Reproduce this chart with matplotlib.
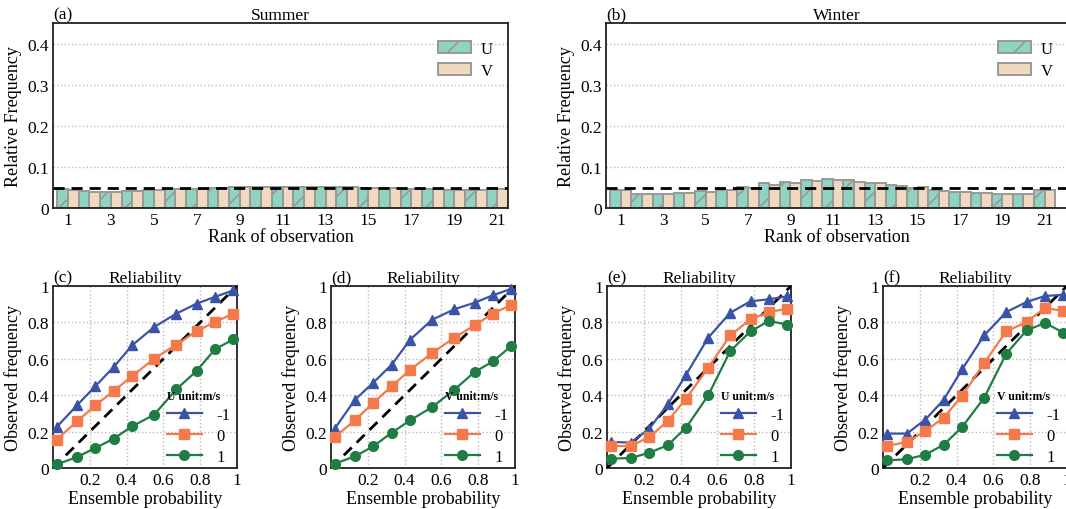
import numpy as np
import matplotlib
matplotlib.use('Agg')
import matplotlib.pyplot as plt
from matplotlib.patches import Patch

plt.rcParams['font.family'] = ['Liberation Serif', 'DejaVu Serif']
plt.rcParams['hatch.color'] = '#999999'
plt.rcParams['hatch.linewidth'] = 1.2

# rank histogram data (ranks 1..21)
ranks = np.arange(1, 22)
summer_u = [0.047, 0.041, 0.040, 0.042, 0.044, 0.046, 0.047, 0.048, 0.050, 0.051, 0.052,
            0.052, 0.052, 0.051, 0.049, 0.048, 0.047, 0.046, 0.045, 0.045, 0.048]
summer_v = [0.045, 0.040, 0.040, 0.042, 0.044, 0.046, 0.047, 0.048, 0.050, 0.051, 0.051,
            0.052, 0.051, 0.050, 0.049, 0.048, 0.047, 0.046, 0.045, 0.045, 0.047]
winter_u = [0.045, 0.035, 0.035, 0.037, 0.041, 0.045, 0.051, 0.061, 0.063, 0.067, 0.070,
            0.067, 0.060, 0.055, 0.048, 0.043, 0.039, 0.037, 0.033, 0.034, 0.044]
winter_v = [0.043, 0.034, 0.034, 0.037, 0.040, 0.044, 0.049, 0.057, 0.062, 0.065, 0.068,
            0.063, 0.060, 0.053, 0.050, 0.042, 0.040, 0.037, 0.035, 0.033, 0.044]

# reliability diagrams: x = ensemble probability, thresholds -1, 0, 1
prob = [0.02, 0.13, 0.23, 0.33, 0.43, 0.55, 0.67, 0.78, 0.88, 0.98]
rel_c = {'-1': [0.225, 0.344, 0.449, 0.555, 0.674, 0.775, 0.848, 0.903, 0.940, 0.976],
         '0': [0.156, 0.256, 0.344, 0.423, 0.505, 0.601, 0.678, 0.751, 0.802, 0.848],
         '1': [0.020, 0.060, 0.110, 0.161, 0.229, 0.293, 0.432, 0.533, 0.652, 0.707]}
rel_d = {'-1': [0.216, 0.375, 0.469, 0.568, 0.705, 0.815, 0.872, 0.908, 0.949, 0.985],
         '0': [0.170, 0.262, 0.359, 0.449, 0.540, 0.632, 0.716, 0.784, 0.848, 0.897],
         '1': [0.024, 0.064, 0.119, 0.194, 0.262, 0.335, 0.430, 0.527, 0.586, 0.670]}
rel_e = {'-1': [0.143, 0.140, 0.216, 0.350, 0.513, 0.716, 0.853, 0.916, 0.927, 0.943],
         '0': [0.121, 0.121, 0.170, 0.258, 0.381, 0.551, 0.729, 0.817, 0.857, 0.875],
         '1': [0.051, 0.055, 0.084, 0.125, 0.222, 0.399, 0.643, 0.751, 0.808, 0.788]}
rel_f = {'-1': [0.189, 0.189, 0.266, 0.375, 0.542, 0.729, 0.857, 0.912, 0.945, 0.952],
         '0': [0.121, 0.143, 0.203, 0.277, 0.396, 0.577, 0.751, 0.802, 0.879, 0.863],
         '1': [0.042, 0.048, 0.073, 0.128, 0.225, 0.386, 0.628, 0.756, 0.797, 0.744]}

u_color = '#8ed4c0'
v_color = '#f0d9bf'
edge = '#999999'
line_styles = {'-1': ('#3b53a6', '^'), '0': ('#f57a4b', 's'), '1': ('#1f7d43', 'o')}

W, H = 1066, 510
fig = plt.figure(figsize=(W / 100, H / 100), dpi=100)


def box(x0, x1, y0, y1):
    # pixel box -> figure fraction
    return [x0 / W, (H - y1) / H, (x1 - x0) / W, (y1 - y0) / H]


def style_axes(ax):
    for s in ax.spines.values():
        s.set_color('#222222')
        s.set_linewidth(1.3)
    ax.tick_params(length=0, labelsize=12.5, pad=3)


def rank_panel(pos, u, v, tag, title, xmax):
    ax = fig.add_axes(pos)
    ax.bar(ranks - 0.25, u, width=0.5, color=u_color, edgecolor=edge, linewidth=1.4, hatch='/', label='U')
    ax.bar(ranks + 0.25, v, width=0.5, color=v_color, edgecolor=edge, linewidth=1.4, label='V')
    ax.axhline(1 / 21, color='k', ls=(0, (4, 2.5)), lw=2, zorder=5)
    ax.set_xlim(0.3, xmax)
    ax.set_ylim(0, 0.45)
    ax.set_yticks([0, 0.1, 0.2, 0.3, 0.4])
    ax.set_yticklabels(['0', '0.1', '0.2', '0.3', '0.4'])
    ax.set_xticks(ranks[::2])
    ax.yaxis.grid(True, ls=':', color='#bbbbbb', lw=1)
    ax.set_axisbelow(True)
    style_axes(ax)
    ax.set_xlabel('Rank of observation', fontsize=13, labelpad=0)
    ax.set_ylabel('Relative Frequency', fontsize=13, labelpad=4)
    ax.set_title(tag, loc='left', fontsize=12.5, pad=3)
    ax.set_title(title, loc='center', fontsize=12.5, pad=3)
    ax.legend(handles=[Patch(facecolor=u_color, edgecolor=edge, hatch='/', lw=1.4),
                       Patch(facecolor=v_color, edgecolor=edge, lw=1.4)],
              labels=['U', 'V'], loc='upper right', frameon=False, fontsize=12,
              handlelength=2.0, handleheight=0.75, labelspacing=0.35, handletextpad=0.6,
              bbox_to_anchor=(1.0, 0.985))
    return ax


def rel_panel(pos, data, tag, var):
    ax = fig.add_axes(pos)
    ax.plot([0, 1], [0, 1], color='k', ls=(0, (4, 2.5)), lw=2, zorder=4)
    for key in ['-1', '0', '1']:
        c, m = line_styles[key]
        ax.plot(prob, data[key], color=c, marker=m, ms=7, lw=1.6, label=key, zorder=5, clip_on=False)
    ax.set_xlim(0, 1)
    ax.set_ylim(0, 1)
    ax.set_xticks([0.2, 0.4, 0.6, 0.8, 1.0])
    ax.set_xticklabels(['0.2', '0.4', '0.6', '0.8', '1'])
    ax.set_yticks([0, 0.2, 0.4, 0.6, 0.8, 1.0])
    ax.set_yticklabels(['0', '0.2', '0.4', '0.6', '0.8', '1'])
    ax.grid(True, ls=':', color='#bbbbbb', lw=1)
    ax.set_axisbelow(True)
    style_axes(ax)
    ax.set_xlabel('Ensemble probability', fontsize=13, labelpad=1)
    ax.set_ylabel('Observed frequency', fontsize=13, labelpad=4)
    ax.set_title(tag, loc='left', fontsize=12.5, pad=3)
    ax.set_title('Reliability', loc='center', fontsize=12.5, pad=3)
    leg = ax.legend(loc='lower right', frameon=False, fontsize=12, handlelength=2.1,
                    title=var + ' unit:m/s', title_fontproperties={'weight': 'bold', 'size': 8.5},
                    borderaxespad=0.1, labelspacing=0.3, handletextpad=0.9,
                    bbox_to_anchor=(1.01, -0.03))
    leg._legend_box.align = 'left'
    return ax


rank_panel(box(53, 508, 24, 209), summer_u, summer_v, '(a)', 'Summer', 21.5)
rank_panel(box(606, 1068, 24, 209), winter_u, winter_v, '(b)', 'Winter', 22.1)

rel_panel(box(53, 237, 287, 469), rel_c, '(c)', 'U')
rel_panel(box(331, 515, 287, 469), rel_d, '(d)', 'V')
rel_panel(box(607, 791, 287, 469), rel_e, '(e)', 'U')
rel_panel(box(883, 1067, 287, 469), rel_f, '(f)', 'V')

fig.savefig('out.png', dpi=100)
